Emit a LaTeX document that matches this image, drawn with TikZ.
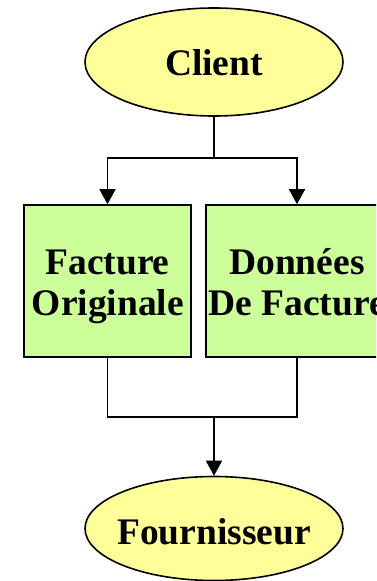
\documentclass[tikz,border=0pt]{standalone}
\usepackage{fontspec}
\setmainfont{Liberation Serif}
\usetikzlibrary{arrows.meta,shapes.geometric}
\definecolor{actorfill}{HTML}{FFFF99}
\definecolor{docfill}{HTML}{CCFF99}
\tikzset{
  actor/.style={ellipse,draw,line width=1.6pt,fill=actorfill,inner sep=0pt},
  docbox/.style={rectangle,draw,line width=1.6pt,fill=docfill,inner sep=0pt},
  caption/.style={anchor=base,inner sep=0pt,font=\fontsize{37.5}{41}\selectfont\bfseries},
  link/.style={line width=1.6pt},
  arrowlink/.style={link,-{Triangle[width=16pt,length=15pt]}}
}
\begin{document}
\begin{tikzpicture}[x=1pt,y=-1pt]
  \useasboundingbox (0,0) rectangle (376,581);
  \clip (0,0) rectangle (376,581);
  % shapes
  \node[actor,minimum width=258pt,minimum height=108pt] (client) at (214,62) {};
  \node[docbox,minimum width=167pt,minimum height=152pt] (orig) at (107.5,281) {};
  \node[docbox,minimum width=182pt,minimum height=152pt] (data) at (297,281) {};
  \node[actor,minimum width=258pt,minimum height=104pt] (supplier) at (214,528.5) {};
  % captions, one line each, placed on their baselines
  \node[caption] (clientname) at (214,75) {Client};
  \node[caption] (origline1) at (107.5,274) {Facture};
  \node[caption] (origline2) at (108,315) {Originale};
  \node[caption] (dataline1) at (297,274) {Données};
  \node[caption] (dataline2) at (297,315) {De Facture};
  \node[caption] (suppliername) at (214,544) {Fournisseur};
  % connectors
  \coordinate (split) at (214,158);
  \coordinate (merge) at (214,417);
  \draw[link] (client.south) -- (split);
  \draw[arrowlink] (split) -| (orig.north);
  \draw[arrowlink] (split) -| (data.north);
  \draw[link] (orig.south) |- (merge);
  \draw[link] (data.south) |- (merge);
  \draw[arrowlink] (merge) -- (supplier.north);
\end{tikzpicture}
\end{document}
